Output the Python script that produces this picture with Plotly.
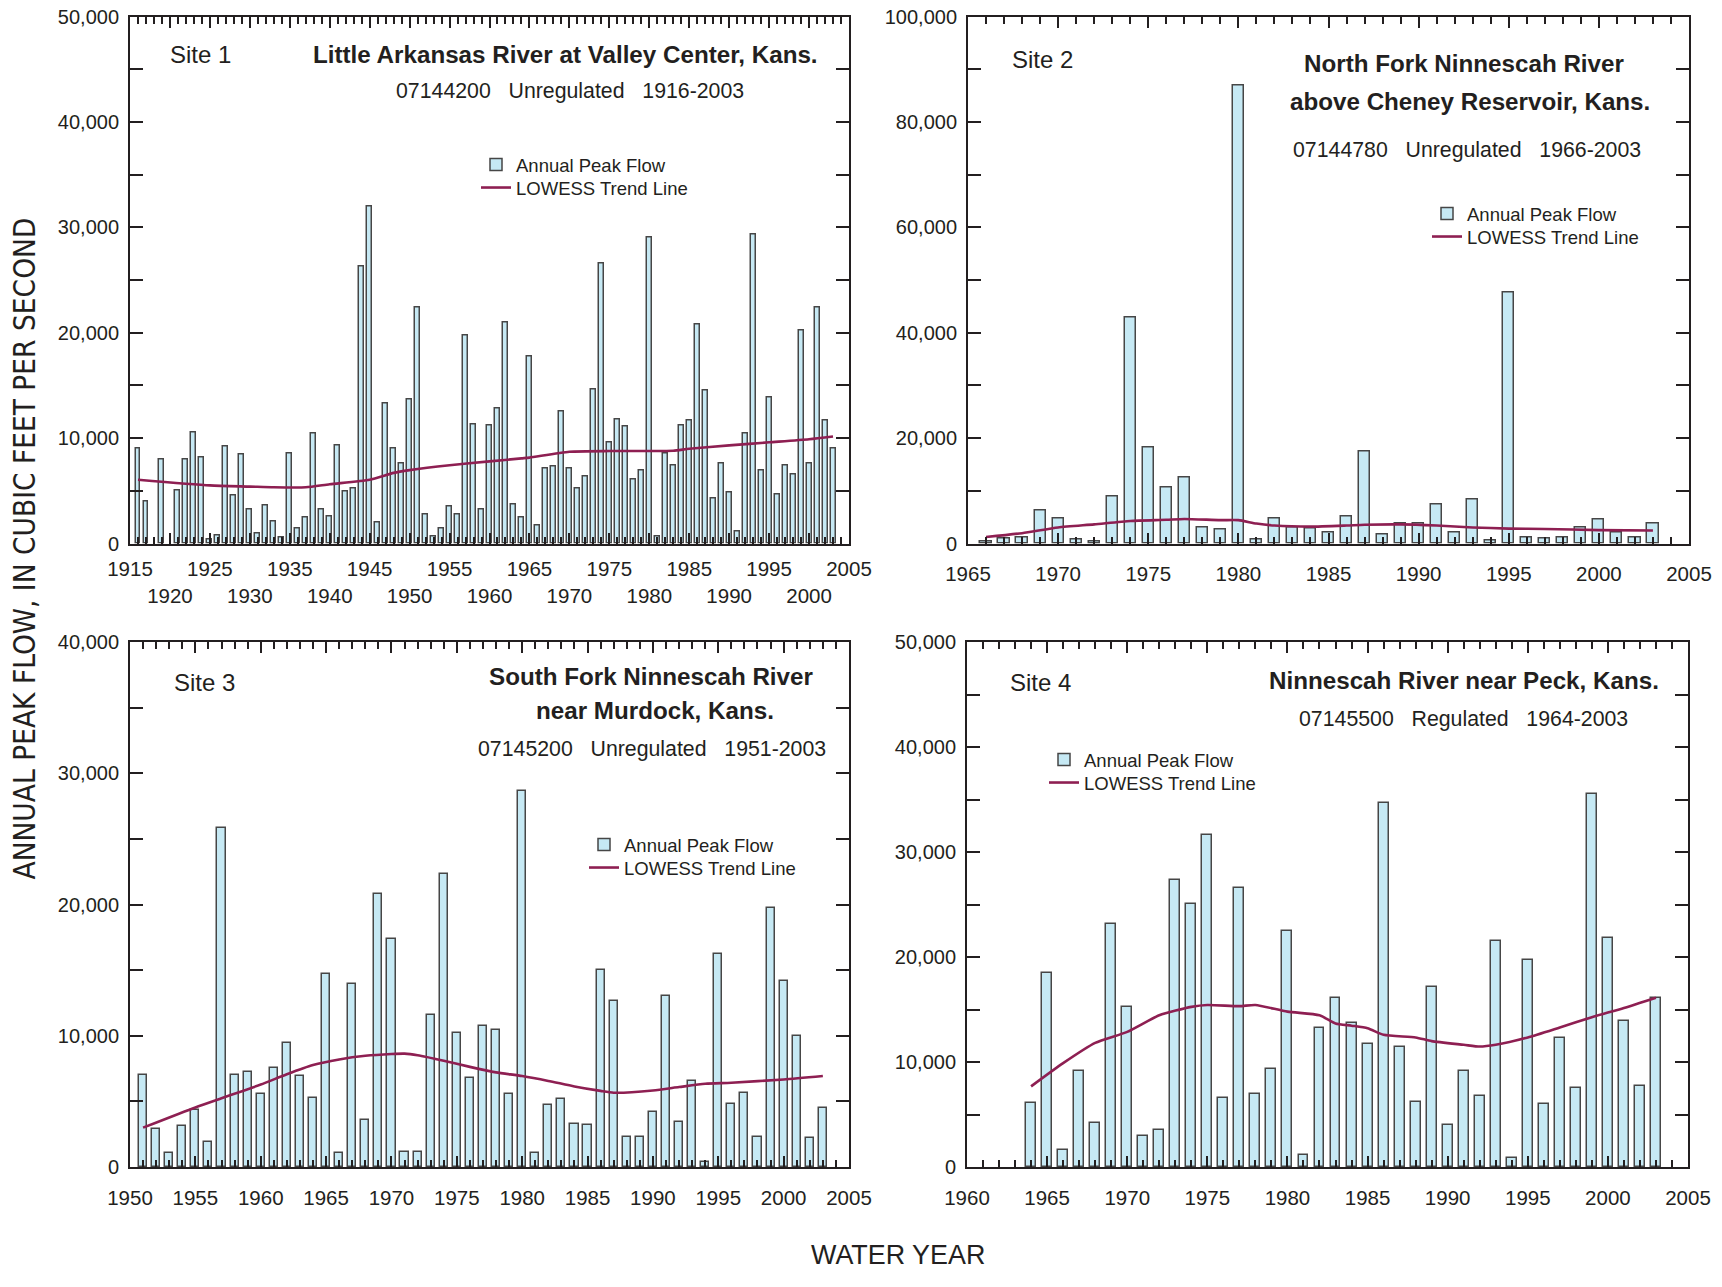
import plotly.graph_objects as go

W, H = 1722, 1287

# ---------------- data ----------------
site1_years = [1916, 1917, 1919, 1921, 1922, 1923, 1924, 1925, 1926, 1927, 1928, 1929, 1930,
               1931, 1932, 1933, 1934, 1935, 1936, 1937, 1938, 1939, 1940, 1941, 1942, 1943,
               1944, 1945, 1946, 1947, 1948, 1949, 1950, 1951, 1952, 1953, 1954, 1955, 1956,
               1957, 1958, 1959, 1960, 1961, 1962, 1963, 1964, 1965, 1966, 1967, 1968, 1969,
               1970, 1971, 1972, 1973, 1974, 1975, 1976, 1977, 1978, 1979, 1980, 1981, 1982,
               1983, 1984, 1985, 1986, 1987, 1988, 1989, 1990, 1991, 1992, 1993, 1994, 1995,
               1996, 1997, 1998, 1999, 2000, 2001, 2002, 2003]
site1_peak = [8990, 4020, 8010, 5000, 8010, 10500, 8120, 400, 800, 9240, 4530, 8410, 3260,
              910, 3620, 2070, 540, 8510, 1410, 2430, 10400, 3260, 2540, 9310, 4960, 5180,
              26270, 31990, 1990, 13300, 9060, 7610, 13700, 22390, 2720, 620, 1410, 3510, 2720,
              19750, 11300, 3260, 11160, 12790, 21010, 3700, 2460, 17750, 1670, 7140, 7320, 12500,
              7070, 5250, 6340, 14600, 26590, 9600, 11780, 11120, 6050, 6880, 29020, 700, 8550,
              7360, 11230, 11700, 20800, 14490, 4240, 7570, 4820, 1160, 10400, 29280, 6960, 13880,
              4640, 7360, 6590, 20220, 7570, 22430, 11700, 9060]
site1_trend_years = [1916, 1925, 1930, 1933, 1937, 1940, 1945, 1948, 1950, 1955, 1960, 1964,
                     1965, 1970, 1975, 1980, 1983, 1985, 1990, 1995, 2000, 2003]
site1_trend = [6050, 5510, 5400, 5330, 5330, 5620, 6050, 6700, 6960, 7430, 7790, 8080,
               8150, 8700, 8770, 8770, 8800, 8990, 9310, 9600, 9890, 10150]

site2_years = list(range(1966, 2004))
site2_peak = [300, 870, 1160, 6170, 4790, 730, 290, 9000, 42850, 18300, 10680, 12490, 3120,
              2690, 86930, 730, 4650, 3050, 2760, 2110, 5080, 17500, 1740, 3780, 3780, 7400,
              2110, 8420, 510, 47710, 1230, 1020, 1090, 3120, 4500, 2180, 1160, 3850]
site2_trend_years = [1966, 1968, 1970, 1972, 1974, 1976, 1977, 1979, 1980, 1981, 1982, 1984,
                     1986, 1987, 1989, 1991, 1993, 1995, 1997, 2000, 2003]
site2_trend = [1230, 1960, 3050, 3630, 4280, 4500, 4650, 4430, 4430, 3780, 3410, 3200,
               3410, 3560, 3630, 3410, 3050, 2830, 2760, 2540, 2470]

site3_years = list(range(1951, 2004))
site3_peak = [7010, 2920, 1040, 3140, 4320, 1930, 25850, 6980, 7260, 5550, 7570, 9450, 6950,
              5240, 14670, 1040, 13940, 3560, 20780, 17360, 1120, 1180, 11550, 22350, 10240,
              6810, 10740, 10430, 5550, 28660, 1040, 4740, 5190, 3280, 3200, 15000, 12680, 2300,
              2300, 4180, 13010, 3450, 6560, 390, 16260, 4770, 5610, 2300, 19770, 14160, 9960,
              2240, 4510]
site3_trend_years = [1951, 1955, 1957, 1960, 1962, 1964, 1966, 1968, 1970, 1971, 1972, 1974,
                     1976, 1978, 1980, 1982, 1984, 1986, 1987, 1990, 1992, 1994, 1996, 2000, 2003]
site3_trend = [3000, 4540, 5240, 6280, 7070, 7770, 8190, 8470, 8610, 8640, 8520, 8100,
               7630, 7210, 6930, 6560, 6140, 5800, 5660, 5830, 6090, 6340, 6420, 6670, 6930]

site4_years = list(range(1964, 2004))
site4_peak = [6140, 18440, 1610, 9150, 4170, 23180, 15250, 2950, 3510, 27350, 25070, 31630,
              6590, 26610, 6910, 9360, 22440, 1120, 13250, 16130, 13740, 11710, 34710, 11430,
              6170, 17110, 4000, 9190, 6730, 21560, 880, 19740, 6000, 12310, 7540, 35550, 21840,
              13890, 7680, 16130]
site4_trend_years = [1964, 1966, 1968, 1970, 1972, 1974, 1975, 1977, 1978, 1980, 1982, 1983,
                     1984, 1985, 1986, 1988, 1989, 1991, 1992, 1993, 1995, 1997, 1999, 2001, 2003]
site4_trend = [7680, 9890, 11820, 12870, 14450, 15250, 15430, 15320, 15430, 14800, 14450, 13670,
               13460, 13220, 12590, 12340, 11990, 11640, 11470, 11640, 12340, 13290, 14270, 15150,
               16130]

site_labels = ["Site 1", "Site 2", "Site 3", "Site 4"]
site_titles = [["Little Arkansas River at Valley Center, Kans."],
               ["North Fork Ninnescah River", "above Cheney Reservoir, Kans."],
               ["South Fork Ninnescah River", "near Murdock, Kans."],
               ["Ninnescah River near Peck, Kans."]]
site_subtitles = ["07144200   Unregulated   1916-2003",
                  "07144780   Unregulated   1966-2003",
                  "07145200   Unregulated   1951-2003",
                  "07145500   Regulated   1964-2003"]
x_ranges = [[1915, 2005], [1965, 2005], [1950, 2005], [1960, 2005]]
y_ranges = [[0, 50000], [0, 100000], [0, 40000], [0, 50000]]
y_label_step = [10000, 20000, 10000, 10000]
y_minor_step = [5000, 10000, 5000, 5000]

# ---------------- styles ----------------
INK = "#231f20"
BAR_FILL = "#c6e9f4"
BAR_EDGE = "#464646"
TREND = "#8e1f52"
FONT = "Liberation Sans, Arial, sans-serif"

def px_x(p):
    return p / W

def px_y(p):
    return 1 - p / H

# axis box positions in pixels (left, right, top, bottom)
boxes = [(130, 849, 16.5, 543.5), (968, 1689, 16.5, 543.5),
         (130, 849, 642, 1167), (967, 1688, 642, 1167)]
x_standoff = [6, 11, 11, 11]

series = [(site1_years, site1_peak, site1_trend_years, site1_trend),
          (site2_years, site2_peak, site2_trend_years, site2_trend),
          (site3_years, site3_peak, site3_trend_years, site3_trend),
          (site4_years, site4_peak, site4_trend_years, site4_trend)]

fig = go.Figure()
for i, (yrs, peak, tyrs, trend) in enumerate(series):
    xa = "x" if i == 0 else f"x{i+1}"
    ya = "y" if i == 0 else f"y{i+1}"
    lg_bar = "legend" if i == 0 else f"legend{2*i+1}"
    lg_line = f"legend{2*i+2}"
    fig.add_trace(go.Bar(x=yrs, y=peak, xaxis=xa, yaxis=ya, width=0.62,
                         marker=dict(color=BAR_FILL, line=dict(color=BAR_EDGE, width=1.5)),
                         name="Annual Peak Flow", legend=lg_bar, showlegend=True))
    fig.add_trace(go.Scatter(x=tyrs, y=trend, xaxis=xa, yaxis=ya, mode="lines",
                             line=dict(color=TREND, width=2.6, shape="spline", smoothing=0.6),
                             name="LOWESS Trend Line", legend=lg_line, showlegend=True))

layout = dict(width=W, height=H, autosize=False, margin=dict(l=0, r=0, t=0, b=0, autoexpand=False),
              paper_bgcolor="white", plot_bgcolor="white", showlegend=True,
              font=dict(family=FONT, color=INK, size=20), bargap=0)

for i in range(4):
    l, r, t, b = boxes[i]
    xk = "xaxis" if i == 0 else f"xaxis{i+1}"
    yk = "yaxis" if i == 0 else f"yaxis{i+1}"
    yname = "y" if i == 0 else f"y{i+1}"
    xname = "x" if i == 0 else f"x{i+1}"
    x0, x1 = x_ranges[i]
    tv = list(range(x0, x1 + 1, 5))
    if i == 0:
        tt = [str(v) if (v - x0) % 10 == 0 else "<br>" + str(v) for v in tv]
    else:
        tt = [str(v) for v in tv]
    layout[xk] = dict(domain=[px_x(l), px_x(r)], anchor=yname, range=[x0, x1],
                      tickmode="array", tickvals=tv, ticktext=tt, tickangle=0,
                      automargin=False, ticklabelstandoff=x_standoff[i],
                      showline=True, linecolor=INK, linewidth=2, mirror="ticks",
                      ticks="inside", ticklen=11, tickwidth=2, tickcolor=INK,
                      minor=dict(tickmode="linear", tick0=x0, dtick=1, ticks="inside",
                                 ticklen=7, tickwidth=2, tickcolor=INK),
                      showgrid=False, zeroline=False, tickfont=dict(size=20.5, color=INK))
    y0, y1 = y_ranges[i]
    layout[yk] = dict(domain=[px_y(b), px_y(t)], anchor=xname, range=[y0, y1],
                      tickmode="linear", tick0=0, dtick=y_label_step[i], tickformat=",d",
                      automargin=False, ticklabelstandoff=5,
                      showline=True, linecolor=INK, linewidth=2, mirror="ticks",
                      ticks="inside", ticklen=13, tickwidth=2, tickcolor=INK,
                      minor=dict(tickmode="linear", tick0=0, dtick=y_minor_step[i], ticks="inside",
                                 ticklen=13, tickwidth=2, tickcolor=INK),
                      showgrid=False, zeroline=False, tickfont=dict(size=20, color=INK))

# legends: (text start x, bar item centre y, line item centre y) in pixels
leg_pos = [(516, 164, 187), (1467, 213, 236), (624, 844, 867), (1084, 759, 782)]
TEXT_OFF_X = 40
ITEM_OFF_Y = 18
for i, (tx, ya_, yb_) in enumerate(leg_pos):
    names = ["legend" if i == 0 else f"legend{2*i+1}", f"legend{2*i+2}"]
    for nm, cy in zip(names, (ya_, yb_)):
        layout[nm] = dict(x=px_x(tx - TEXT_OFF_X), y=px_y(cy - ITEM_OFF_Y), xanchor="left",
                          yanchor="top", bgcolor="rgba(0,0,0,0)", font=dict(size=18.5, color=INK),
                          itemclick=False, itemdoubleclick=False, visible=True)

annotations = []
site_pos = [(168, 55), (1010, 60), (172, 682), (1008, 682)]
title_pos = [[(565, 55)], [(1464, 64), (1470, 102)], [(651, 676), (655, 710)], [(1464, 680)]]
sub_pos = [(570, 91), (1467, 150), (652, 749), (1463, 719)]
for i in range(4):
    sx, sy = site_pos[i]
    annotations.append(dict(text=site_labels[i], x=px_x(sx), y=px_y(sy), xref="paper", yref="paper",
                            xanchor="left", yanchor="middle", showarrow=False,
                            font=dict(size=24, color=INK)))
    for line, (txx, tyy) in zip(site_titles[i], title_pos[i]):
        annotations.append(dict(text="<b>" + line + "</b>", x=px_x(txx), y=px_y(tyy), xref="paper",
                                yref="paper", xanchor="center", yanchor="middle", showarrow=False,
                                font=dict(size=24.2, color=INK)))
    ux, uy = sub_pos[i]
    annotations.append(dict(text=site_subtitles[i], x=px_x(ux), y=px_y(uy), xref="paper", yref="paper",
                            xanchor="center", yanchor="middle", showarrow=False,
                            font=dict(size=21.3, color=INK)))

annotations.append(dict(text="ANNUAL PEAK FLOW, IN CUBIC FEET PER SECOND", x=px_x(24.5), y=px_y(549),
                        xref="paper", yref="paper", xanchor="center", yanchor="middle",
                        textangle=-90, showarrow=False,
                        font=dict(size=29.5, color=INK,
                                  family="Liberation Sans Narrow, Arial Narrow, DejaVu Sans Condensed, sans-serif")))
annotations.append(dict(text="WATER YEAR", x=px_x(898), y=px_y(1255), xref="paper", yref="paper",
                        xanchor="center", yanchor="middle", showarrow=False,
                        font=dict(size=26.9, color=INK)))
layout["annotations"] = annotations

fig.update_layout(**layout)
fig.write_html("out.html")
